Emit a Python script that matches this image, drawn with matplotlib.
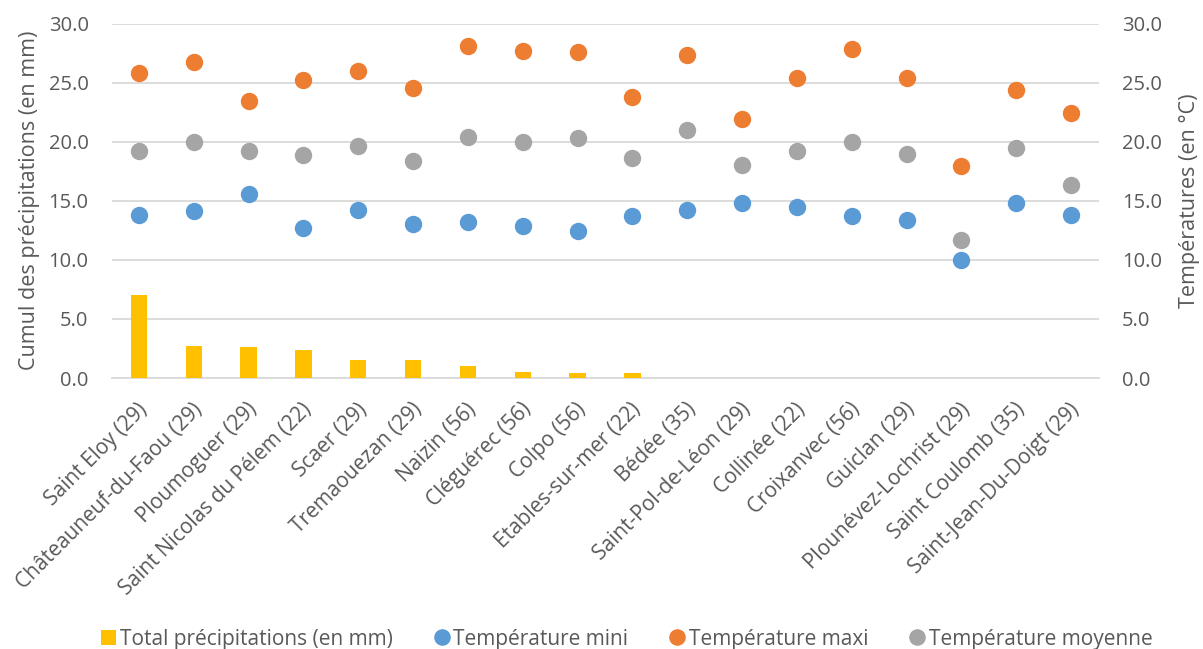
import matplotlib.pyplot as plt
from matplotlib.ticker import MultipleLocator, FormatStrFormatter
import matplotlib.transforms as mtransforms

plt.rcParams['font.family'] = ['Open Sans', 'DejaVu Sans']

stations = ["Saint Eloy (29)", "Châteauneuf-du-Faou (29)", "Ploumoguer (29)",
            "Saint Nicolas du Pélem (22)", "Scaer (29)", "Tremaouezan (29)",
            "Naizin (56)", "Cléguérec (56)", "Colpo (56)", "Etables-sur-mer (22)",
            "Bédée (35)", "Saint-Pol-de-Léon (29)", "Collinée (22)", "Croixanvec (56)",
            "Guiclan (29)", "Plounévez-Lochrist (29)", "Saint Coulomb (35)",
            "Saint-Jean-Du-Doigt (29)"]
precip = [7.0, 2.75, 2.6, 2.4, 1.5, 1.5, 1.0, 0.5, 0.4, 0.4,
          0, 0, 0, 0, 0, 0, 0, 0]
t_min = [13.8, 14.1, 15.6, 12.7, 14.2, 13.0, 13.2, 12.9, 12.45, 13.7,
         14.2, 14.8, 14.5, 13.7, 13.4, 10.0, 14.85, 13.8]
t_max = [25.8, 26.7, 23.4, 25.2, 26.0, 24.5, 28.1, 27.7, 27.6, 23.8,
         27.35, 21.9, 25.35, 27.85, 25.4, 17.9, 24.4, 22.4]
t_moy = [19.2, 20.0, 19.25, 18.9, 19.65, 18.35, 20.4, 20.0, 20.35, 18.6,
         20.95, 18.0, 19.2, 20.0, 18.95, 11.7, 19.5, 16.3]

txt = "#595959"
fig = plt.figure(figsize=(12.03, 6.49), dpi=100)
ax = fig.add_axes([111.5 / 1203, 1 - 378 / 649, (1098.5 - 111.5) / 1203, (378 - 23.5) / 649])
ax2 = ax.twinx()

x = list(range(len(stations)))
ax.bar(x, precip, width=0.3, color="#FFC000", label="Total précipitations (en mm)", zorder=3)
ax2.plot(x, t_min, "o", ms=11.5, color="#5B9BD5", label="Température mini", zorder=3)
ax2.plot(x, t_max, "o", ms=11.5, color="#ED7D31", label="Température maxi", zorder=3)
ax2.plot(x, t_moy, "o", ms=11.5, color="#A5A5A5", label="Température moyenne", zorder=3)

for a in (ax, ax2):
    a.set_ylim(0, 30)
    a.yaxis.set_major_locator(MultipleLocator(5))
    a.yaxis.set_major_formatter(FormatStrFormatter("%.1f"))
    for s in a.spines.values():
        s.set_visible(False)
    a.tick_params(length=0, labelsize=14.5, labelcolor=txt)
ax.set_xlim(-0.5, len(stations) - 0.5)
ax.grid(axis="y", color="#D9D9D9", lw=1.3, zorder=0)
ax.set_axisbelow(True)
ax.spines["bottom"].set_visible(True)
ax.spines["bottom"].set_color("#D9D9D9")
ax.spines["bottom"].set_linewidth(1.3)
ax.tick_params(axis="y", pad=16.5)
ax2.tick_params(axis="y", pad=17)

ax.set_xticks(x)
ax.set_xticklabels(stations, rotation=45, ha="right", va="center", rotation_mode="anchor",
                   fontsize=15, color=txt)
offset = mtransforms.ScaledTranslation(4 / 72, -17 / 72, fig.dpi_scale_trans)
for lbl in ax.get_xticklabels():
    lbl.set_transform(lbl.get_transform() + offset)

ax.set_ylabel("Cumul des précipitations (en mm)", fontsize=15.5, color=txt, labelpad=6)
ax2.set_ylabel("Températures (en °C)", fontsize=15.5, color=txt, labelpad=12)

h1, l1 = ax.get_legend_handles_labels()
h2, l2 = ax2.get_legend_handles_labels()
fig.legend(h1 + h2, l1 + l2, loc="lower center", bbox_to_anchor=(0.521, -0.03), ncol=4,
           frameon=False, fontsize=15, labelcolor=txt, handlelength=0.7, handletextpad=0.2,
           columnspacing=2.0, markerscale=0.95)

fig.savefig("out.png", dpi=100)
